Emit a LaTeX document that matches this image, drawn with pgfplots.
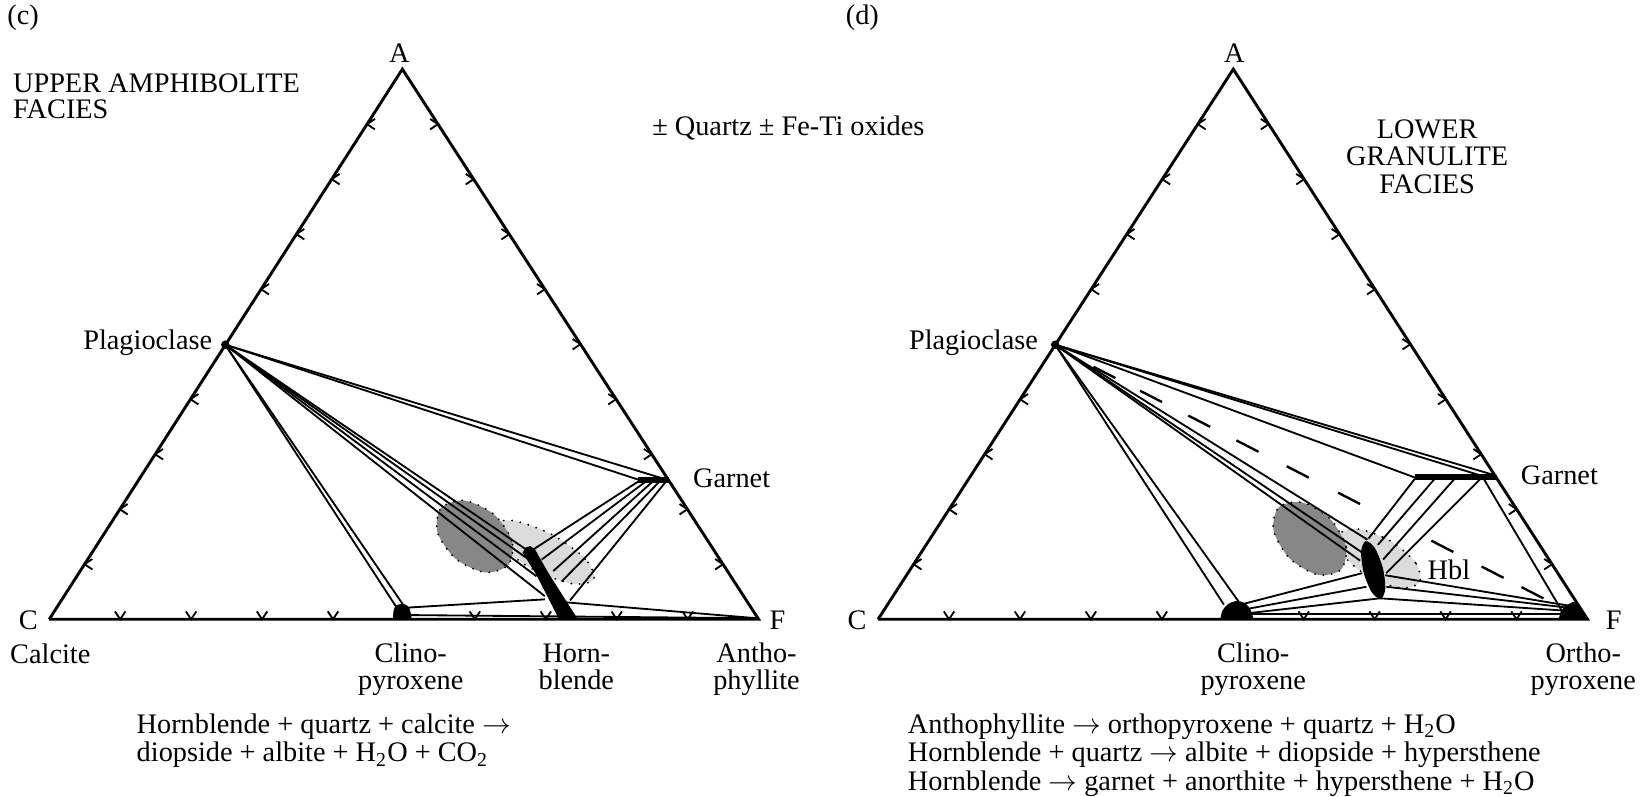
\documentclass[border=0pt]{standalone}
\usepackage{pgfplots}
\pgfplotsset{compat=1.18}
\usepackage{fontspec}
\setmainfont{Liberation Serif}
\pgfdeclareplotmark{tl}{\pgfpathmoveto{\pgfqpoint{3pt}{2pt}}\pgfpathlineto{\pgfqpoint{0pt}{0pt}}\pgfpathlineto{\pgfqpoint{3pt}{-2pt}}\pgfusepathqstroke}
\pgfdeclareplotmark{tr}{\pgfpathmoveto{\pgfqpoint{-3pt}{2pt}}\pgfpathlineto{\pgfqpoint{0pt}{0pt}}\pgfpathlineto{\pgfqpoint{-3pt}{-2pt}}\pgfusepathqstroke}
\pgfdeclareplotmark{tb}{\pgfpathmoveto{\pgfqpoint{-2pt}{3pt}}\pgfpathlineto{\pgfqpoint{0pt}{0pt}}\pgfpathlineto{\pgfqpoint{2pt}{3pt}}\pgfusepathqstroke}
\pgfplotsset{tie/.style={black, line width=0.7pt, no marks}}
\newcommand{\seg}[2]{\addplot[tie] coordinates {#1 #2};}
\newcommand{\dsh}[2]{\addplot[black, line width=0.9pt, no marks] coordinates {#1 #2};}
\begin{document}
\begin{tikzpicture}[font=\fontsize{10.8}{10.8}\selectfont, every node/.style={inner sep=0pt}]
\begin{axis}[scale only axis, width=627.2pt, height=304pt, xmin=0, xmax=1568, ymin=0, ymax=760, y dir=reverse, hide axis, clip=false]
\path (axis cs:0,0) rectangle (axis cs:1568,760);
% ---------- (c) ellipses ----------
\addplot[fill=black!14, draw=black, line width=0.8pt, line cap=round, dash pattern=on 0pt off 3.2pt, smooth cycle] coordinates {(566.6,552.8) (558.6,533.4) (526.9,510.2) (489.9,496.9) (469.4,501.2) (477.4,520.6) (509.1,543.8) (546.1,557.1)};
\addplot[fill=black!47, draw=black, line width=0.8pt, line cap=round, dash pattern=on 0pt off 3.2pt, smooth cycle] coordinates {(485.2,539.0) (488.5,515.9) (471.0,490.6) (443.0,477.7) (420.8,485.0) (417.5,508.1) (435.0,533.4) (463.0,546.3)};
% ---------- (d) ellipses ----------
\addplot[fill=black!14, draw=black, line width=0.8pt, line cap=round, dash pattern=on 0pt off 3.2pt, smooth cycle] coordinates {(1355,555.5) (1350.6,536.7) (1326,515.7) (1295.6,504.9) (1277,510.5) (1281.5,529.3) (1306,550.3) (1336.5,561.1)};
\addplot[fill=black!47, draw=black, line width=0.8pt, line cap=round, dash pattern=on 0pt off 3.2pt, smooth cycle] coordinates {(1279.7,543.7) (1284.5,521.5) (1269.1,494.9) (1242.5,479.5) (1220.3,484.3) (1215.5,506.5) (1230.9,533.1) (1257.5,548.5)};
% ---------- triangles ----------
\addplot[black, line width=1.1pt, no marks] coordinates {(47,591) (384,66) (724,591) (47,591)};
\addplot[black, line width=1.1pt, no marks] coordinates {(838,591) (1177,66) (1515,591) (838,591)};
% ticks (c)
\addplot[black, line width=0.7pt, only marks, mark=tl] coordinates {(80.7,538.5) (114.4,486) (148.1,433.5) (181.8,381) (249.2,276) (282.9,223.5) (316.6,171) (350.3,118.5)};
\addplot[black, line width=0.7pt, only marks, mark=tr] coordinates {(418,118.5) (452,171) (486,223.5) (520,276) (554,328.5) (588,381) (622,433.5) (656,486) (690,538.5)};
\addplot[black, line width=0.7pt, only marks, mark=tb] coordinates {(114.7,591) (182.4,591) (250.1,591) (317.8,591) (453.2,591) (520.9,591) (588.6,591) (656.3,591)};
% ticks (d)
\addplot[black, line width=0.7pt, only marks, mark=tl] coordinates {(871.9,538.5) (905.8,486) (939.7,433.5) (973.6,381) (1041.4,276) (1075.3,223.5) (1109.2,171) (1143.1,118.5)};
\addplot[black, line width=0.7pt, only marks, mark=tr] coordinates {(1210.8,118.5) (1244.6,171) (1278.4,223.5) (1312.2,276) (1346,328.5) (1379.8,381) (1413.6,433.5) (1447.4,486) (1481.2,538.5)};
\addplot[black, line width=0.7pt, only marks, mark=tb] coordinates {(905.7,591) (973.4,591) (1041.1,591) (1108.8,591) (1244.2,591) (1311.9,591) (1379.6,591) (1447.3,591)};
% ---------- tie lines (c) ----------
\seg{(215,329)}{(637,458)}
\seg{(215,329)}{(610,458)}
\seg{(215,329)}{(378,579)}
\seg{(215,329)}{(386,579)}
\seg{(215,329)}{(503,525)}
\seg{(215,329)}{(506,535)}
\seg{(215,329)}{(512,550)}
\seg{(215,329)}{(520,569)}
\seg{(508,525)}{(610,459)}
\seg{(517,534)}{(617,459)}
\seg{(528,545)}{(623.5,459)}
\seg{(536,555)}{(630,459)}
\seg{(544,573)}{(636,459)}
\seg{(387,580)}{(520,572)}
\seg{(390,587)}{(722,590)}
\seg{(530,574)}{(722,590)}
% garnet bar (c)
\addplot[black, line width=2pt, no marks] coordinates {(609,458) (638,458)};
% hornblende band (c)
\addplot[fill=black, draw=black, line width=0.3pt, no marks] coordinates {(499,527) (512,548) (534,591) (551,591) (523,547) (510.5,525) (506,521.5) (501.5,523)};
% cpx blob (c)
\addplot[fill=black, draw=black, line width=0.3pt, smooth, no marks] coordinates {(375.5,591) (376,583) (378.5,578) (386,577) (390.5,581) (392.5,591)};
% ---------- tie lines (d) ----------
\seg{(1007,329)}{(1428,454)}
\seg{(1007,329)}{(1417,455)}
\seg{(1007,329)}{(1351,456)}
\dsh{(1043.5,350)}{(1064.5,360.8)}
\dsh{(1088,372.9)}{(1109,383.7)}
\dsh{(1134,396.6)}{(1155,407.4)}
\dsh{(1180,420.3)}{(1201,431.1)}
\dsh{(1228,445)}{(1249,455.8)}
\dsh{(1277,470.2)}{(1298,481)}
\dsh{(1366,516)}{(1387,526.8)}
\dsh{(1414,540.7)}{(1435,551.5)}
\dsh{(1452,560.3)}{(1473,571.1)}
\seg{(1007,329)}{(1168,577)}
\seg{(1007,329)}{(1182,574)}
\seg{(1007,329)}{(1298,535)}
\seg{(1007,329)}{(1301,528)}
\seg{(1007,329)}{(1305,515)}
\seg{(1306,514)}{(1351,456)}
\seg{(1315,520)}{(1370,456)}
\seg{(1320,534)}{(1389,456)}
\seg{(1323,547)}{(1414,456)}
\seg{(1416,457)}{(1490,582)}
\seg{(1188,576)}{(1300,547)}
\seg{(1191,581)}{(1304,560)}
\seg{(1193,585)}{(1317,571)}
\seg{(1322,549)}{(1497,578)}
\seg{(1323,560)}{(1497,580)}
\seg{(1317,571)}{(1497,583)}
\seg{(1194,586)}{(1497,586)}
% garnet bar (d)
\addplot[black, line width=2.4pt, no marks] coordinates {(1350,455) (1428,455)};
% hornblende ellipse (d)
\addplot[fill=black, draw=black, line width=0.3pt, smooth cycle] coordinates {(1303.4,516.9) (1299.4,526.4) (1301.8,546.3) (1309.3,564.8) (1317.6,571.1) (1321.7,561.6) (1319.2,541.7) (1311.7,523.2)};
% cpx blob (d)
\addplot[fill=black, draw=black, line width=0.3pt, smooth, no marks] coordinates {(1165,591) (1167,583) (1172,577) (1180,574) (1188,576) (1193,582) (1196,591)};
% opx blob (d)
\addplot[fill=black, draw=black, line width=0.3pt, no marks] coordinates {(1488,591) (1490,583) (1495,578) (1501,575) (1506,576) (1509,581) (1515,591)};
% plagioclase points
\addplot[black, only marks, mark=*, mark size=1.4pt] coordinates {(215,329) (1007,329)};
% ---------- text (c) ----------
\node[anchor=base] at (axis cs:22,23) {(c)};
\node[anchor=base west] at (axis cs:12,88) {UPPER AMPHIBOLITE};
\node[anchor=base west] at (axis cs:12,113) {FACIES};
\node[anchor=base] at (axis cs:381,60) {A};
\node[anchor=base west] at (axis cs:622,129) {± Quartz ± Fe-Ti oxides};
\node[anchor=base east] at (axis cs:203,334) {Plagioclase};
\node[anchor=base west] at (axis cs:661,465) {Garnet};
\node[anchor=base] at (axis cs:27,601) {C};
\node[anchor=base] at (axis cs:742,601) {F};
\node[anchor=base] at (axis cs:48,633) {Calcite};
\node[anchor=base] at (axis cs:392,632) {Clino-};
\node[anchor=base] at (axis cs:392,658) {pyroxene};
\node[anchor=base] at (axis cs:550,632) {Horn-};
\node[anchor=base] at (axis cs:550,658) {blende};
\node[anchor=base] at (axis cs:722,632) {Antho-};
\node[anchor=base] at (axis cs:722,658) {phyllite};
\node[anchor=base west] at (axis cs:130,700) {Hornblende + quartz + calcite $\rightarrow$};
\node[anchor=base west] at (axis cs:130,727) {diopside + albite + H\textsubscript{2}O + CO\textsubscript{2}};
% ---------- text (d) ----------
\node[anchor=base] at (axis cs:823,23) {(d)};
\node[anchor=base] at (axis cs:1178,60) {A};
\node[anchor=base] at (axis cs:1362,132) {LOWER};
\node[anchor=base] at (axis cs:1362,158) {GRANULITE};
\node[anchor=base] at (axis cs:1362,185) {FACIES};
\node[anchor=base east] at (axis cs:991,334) {Plagioclase};
\node[anchor=base west] at (axis cs:1451,462) {Garnet};
\node[anchor=base west] at (axis cs:1362,553) {Hbl};
\node[anchor=base] at (axis cs:818,601) {C};
\node[anchor=base] at (axis cs:1540,601) {F};
\node[anchor=base] at (axis cs:1196,632) {Clino-};
\node[anchor=base] at (axis cs:1196,658) {pyroxene};
\node[anchor=base] at (axis cs:1511,632) {Ortho-};
\node[anchor=base] at (axis cs:1511,658) {pyroxene};
\node[anchor=base west] at (axis cs:866,700) {Anthophyllite $\rightarrow$ orthopyroxene + quartz + H\textsubscript{2}O};
\node[anchor=base west] at (axis cs:866,727) {Hornblende + quartz $\rightarrow$ albite + diopside + hypersthene};
\node[anchor=base west] at (axis cs:866,754) {Hornblende $\rightarrow$ garnet + anorthite + hypersthene + H\textsubscript{2}O};
\end{axis}
\end{tikzpicture}
\end{document}
